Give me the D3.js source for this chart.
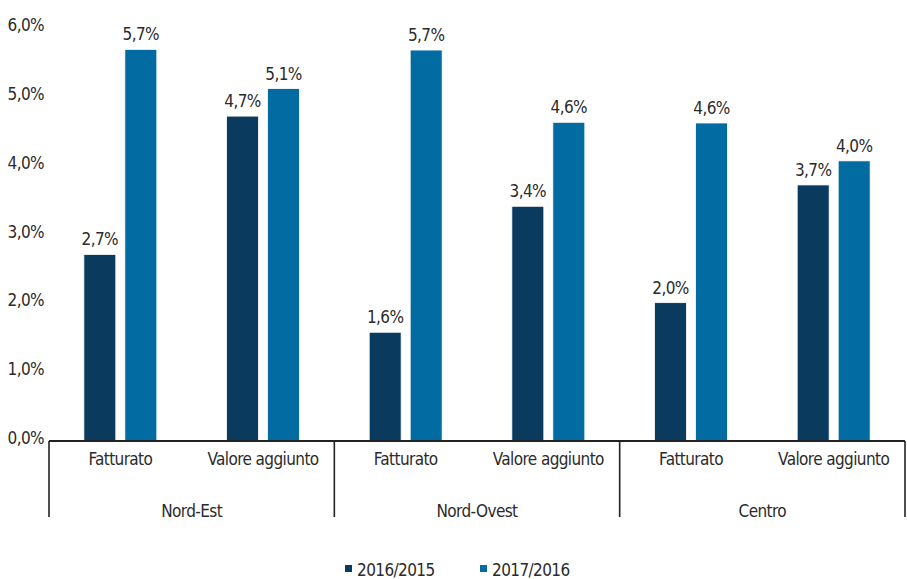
<!DOCTYPE html>
<html>
<head>
<meta charset="utf-8">
<script src="https://cdn.jsdelivr.net/npm/d3@7"></script>
<style>
  html, body { margin: 0; padding: 0; background: #fff; }
  svg text { font-family: "DejaVu Sans Condensed", "DejaVu Sans", sans-serif; font-stretch: condensed; fill: #2b2b2b; letter-spacing: -0.6px; }
</style>
</head>
<body>
<svg id="chart" width="907" height="579"></svg>
<script>
const regions = ["Nord-Est", "Nord-Ovest", "Centro"];
const measures = ["Fatturato", "Valore aggiunto"];
const seriesNames = ["2016/2015", "2017/2016"];
// values [region][measure]
const values2016 = [[2.71, 4.72], [1.58, 3.41], [2.01, 3.72]];
const values2017 = [[5.69, 5.12], [5.68, 4.63], [4.62, 4.07]];
const labels2016 = [["2,7%", "4,7%"], ["1,6%", "3,4%"], ["2,0%", "3,7%"]];
const labels2017 = [["5,7%", "5,1%"], ["5,7%", "4,6%"], ["4,6%", "4,0%"]];
const yTicks = [0, 1, 2, 3, 4, 5, 6];
const yTickLabels = ["0,0%", "1,0%", "2,0%", "3,0%", "4,0%", "5,0%", "6,0%"];
const colors = ["#0b3a5f", "#016ba2"];

const FS = 17;
const svg = d3.select("#chart");
const left = 49, right = 905, y0px = 441, ytop = 28;

const y = d3.scaleLinear().domain([0, 6]).range([y0px, ytop]);
const x0 = d3.scaleBand().domain(regions).range([left, right]).padding(0);
const x1 = d3.scaleBand().domain(measures).range([0, x0.bandwidth()]).padding(0);
const x2 = d3.scaleBand().domain(seriesNames).range([0, x1.bandwidth()]).paddingInner(0.22).paddingOuter(0.85);

const rows = [];
regions.forEach((r, ri) => measures.forEach((m, mi) => {
  rows.push({ r, m, s: seriesNames[0], v: values2016[ri][mi], lab: labels2016[ri][mi], c: colors[0] });
  rows.push({ r, m, s: seriesNames[1], v: values2017[ri][mi], lab: labels2017[ri][mi], c: colors[1] });
}));

const bx = d => x0(d.r) + x1(d.m) + x2(d.s);

svg.append("g").selectAll("rect").data(rows).join("rect")
  .attr("x", bx)
  .attr("y", d => y(d.v))
  .attr("width", x2.bandwidth())
  .attr("height", d => y(0) - y(d.v))
  .attr("fill", d => d.c)
  .attr("stroke", "#ffffff")
  .attr("stroke-width", 0.8);

svg.append("g").selectAll("text").data(rows).join("text")
  .attr("x", d => bx(d) + x2.bandwidth() / 2)
  .attr("y", d => y(d.v) - 9)
  .attr("text-anchor", "middle")
  .attr("font-size", FS)
  .text(d => d.lab);

// Y tick labels
svg.append("g").selectAll("text").data(yTicks).join("text")
  .attr("x", 44)
  .attr("y", d => y(d) + 3)
  .attr("text-anchor", "end")
  .attr("font-size", FS)
  .text((d, i) => yTickLabels[i]);

// X axis line
svg.append("line")
  .attr("x1", left).attr("x2", right)
  .attr("y1", y0px).attr("y2", y0px)
  .attr("stroke", "#222").attr("stroke-width", 2);

// Group separators
const seps = regions.map(r => x0(r)).concat([right]);
svg.append("g").selectAll("line").data(seps).join("line")
  .attr("x1", d => d).attr("x2", d => d)
  .attr("y1", y0px).attr("y2", 517)
  .attr("stroke", "#222").attr("stroke-width", 1.6);

// Measure labels
const mRows = [];
regions.forEach(r => measures.forEach(m => mRows.push({ r, m })));
svg.append("g").selectAll("text").data(mRows).join("text")
  .attr("x", d => x0(d.r) + x1(d.m) + x1.bandwidth() / 2)
  .attr("y", 465)
  .attr("text-anchor", "middle")
  .attr("font-size", FS)
  .text(d => d.m);

// Region labels
svg.append("g").selectAll("text").data(regions).join("text")
  .attr("x", d => x0(d) + x0.bandwidth() / 2)
  .attr("y", 517)
  .attr("text-anchor", "middle")
  .attr("font-size", FS)
  .text(d => d);

// Legend
const legX = [345, 480];
const leg = svg.append("g").selectAll("g").data(seriesNames).join("g")
  .attr("transform", (d, i) => `translate(${legX[i]},0)`);
leg.append("rect").attr("x", 0).attr("y", 565).attr("width", 7).attr("height", 7)
  .attr("fill", (d, i) => colors[i]);
leg.append("text").attr("x", 12).attr("y", 576).attr("font-size", FS).text(d => d);
</script>
</body>
</html>
